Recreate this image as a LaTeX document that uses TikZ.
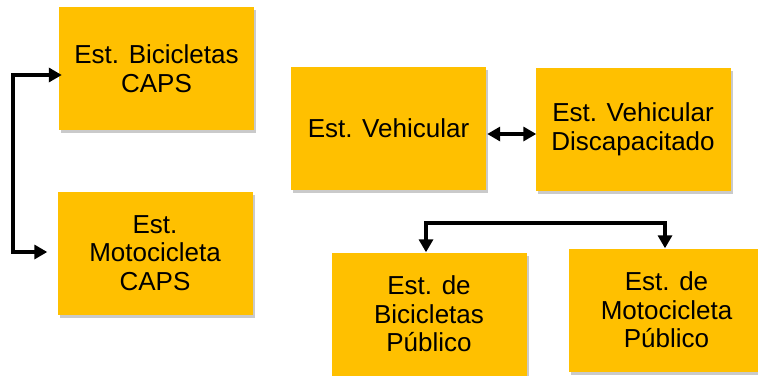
\documentclass[tikz,border=0pt]{standalone}
\usepackage{fontspec}
\setmainfont{Liberation Sans}
\usetikzlibrary{arrows.meta,shadows}
\definecolor{boxfill}{HTML}{FFC000}
\begin{document}
\begin{tikzpicture}[x=1pt,y=-1pt,
  box/.style={fill=boxfill, draw=none, inner sep=0pt, align=center,
    minimum width=195pt, minimum height=123pt,
    font=\fontsize{26}{28.5}\selectfont,
    drop shadow={shadow xshift=2pt, shadow yshift=-3pt, opacity=0.35, fill=black!60}},
  conn/.style={line width=3.5pt, {Triangle[length=13pt,width=14pt]}-{Triangle[length=13pt,width=14pt]}}]
\useasboundingbox (0,0) rectangle (758,375);
\node[box] (B1) at (156.5,68.5) {Est. Bicicletas\\CAPS};
\node[box] (B2) at (155,253) {Est.\\Motocicleta\\CAPS};
\node[box] (B3) at (388.5,128) {Est. Vehicular};
\node[box] (B4) at (633,129.5) {Est. Vehicular\\Discapacitado};
\node[box] (B5) at (429,314) {Est. de\\Bicicletas\\Público};
\node[box] (B6) at (666.5,310) {Est. de\\Motocicleta\\Público};
\coordinate (LT) at (13,75);
\coordinate (LB) at (13,252);
\draw[conn] ([xshift=3pt]B1.west |- LT) -- (LT) -- (LB) -- ([xshift=-10pt]B2.west |- LB);
\draw[conn] ([xshift=1pt]B3.east |- 0,134) -- ([xshift=1pt]B4.west |- 0,134);
\coordinate (TL) at (426,223);
\coordinate (TR) at (665,223);
\draw[conn] (TL |- B5.north) -- (TL) -- (TR) -- (TR |- B6.north);
\end{tikzpicture}
\end{document}
